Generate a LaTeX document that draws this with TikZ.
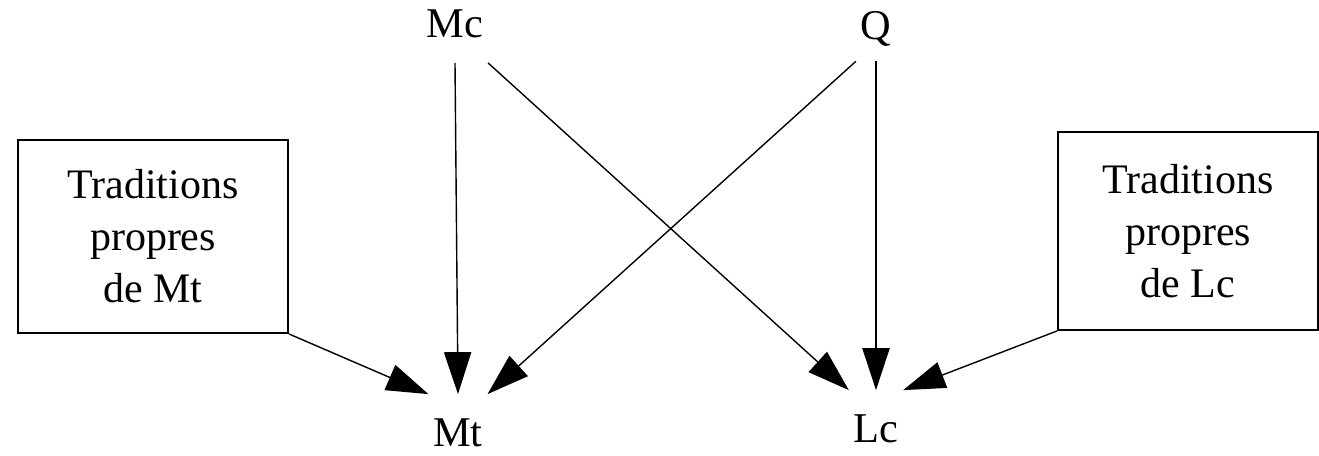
\documentclass[tikz,border=0pt]{standalone}
\usepackage{fontspec}
\setmainfont{Liberation Serif}
\usetikzlibrary{arrows.meta}
\begin{document}
\begin{tikzpicture}[x=0.25pt,y=-0.25pt,
  lbl/.style={inner xsep=1pt,inner ysep=6pt,font=\fontsize{10.6pt}{13pt}\selectfont},
  tradbox/.style={draw,line width=0.45pt,align=center,inner sep=0pt,font=\fontsize{10.5pt}{13pt}\selectfont},
  conn/.style={line width=0.35pt,-{Triangle[length=10.5pt,width=6.8pt]}}]
\useasboundingbox (0,0) rectangle (1319,455);
\node[lbl] (Mc) at (455,24) {Mc};
\node[lbl,inner ysep=3.5pt] (Q) at (876,29) {Q};
\node[lbl] (Mt) at (458,433) {Mt};
\node[lbl] (Lc) at (876,429) {Lc};
\node[tradbox,minimum width=67.5pt,minimum height=48.25pt] (lbox) at (153,236.5) {Traditions\\propres\\de Mt};
\node[tradbox,minimum width=65pt,minimum height=49.5pt] (rbox) at (1188,231) {Traditions\\propres\\de Lc};
\draw[conn] (Mc.south) -- (Mt.north);
\draw[conn] (Q.south) -- (Lc.north);
\draw[conn] (Mc.south east) -- (Lc.north west);
\draw[conn] (Q.south west) -- (Mt.north east);
\draw[conn] (lbox.south east) -- (Mt.north west);
\draw[conn] (rbox.south west) -- (Lc.north east);
\end{tikzpicture}
\end{document}
